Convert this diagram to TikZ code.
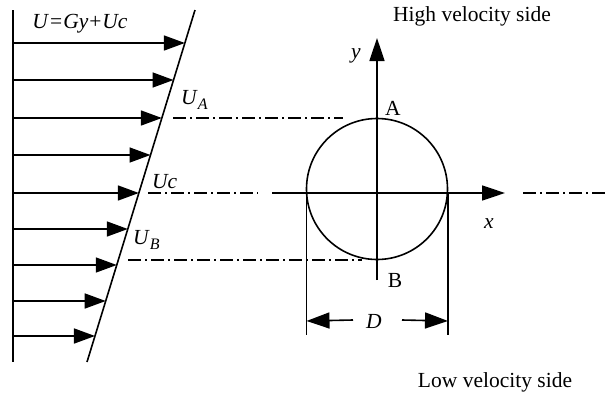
\documentclass[tikz,border=0pt]{standalone}
\usepackage{fontspec}
\setmainfont{Liberation Serif}
\usetikzlibrary{arrows.meta,calc}
\tikzset{
  flow/.style={-{Triangle[length=21pt,width=15pt]}, line width=1.6pt},
  axisline/.style={-{Triangle[length=23pt,width=15pt]}, line width=1.6pt},
  dimline/.style={-{Triangle[length=23pt,width=16pt]}, line width=1.6pt},
  centerline/.style={line width=1.2pt, dash pattern=on 13pt off 4pt on 2pt off 4pt},
  lbl/.style={inner sep=0pt, font=\fontsize{21.5}{25}\selectfont},
}
\newcommand{\usub}[1]{\textit{U}\raisebox{-5pt}{\fontsize{16}{18}\selectfont\textit{#1}}}

\begin{document}
\begin{tikzpicture}[x=1pt,y=-1pt]
    \useasboundingbox (0,0) rectangle (608,394);
    % shear flow profile
    \coordinate (wtop) at (13,10);
    \coordinate (wbot) at (13,362);
    \coordinate (gtop) at (195,10);
    \coordinate (gbot) at (87,362);
    \draw[line width=2.4pt] (wtop) -- (wbot);
    \draw[line width=1.6pt] (gtop) -- (gbot);
    \foreach \yy [count=\k] in {43,80,118,155,193,229,265,301,336}{
      \pgfmathsetmacro\gx{195-0.30682*(\yy-10)}
      \coordinate (w\k) at (13,\yy);
      \coordinate (g\k) at (\gx,\yy);
      \draw[flow] (w\k) -- (g\k);
    }
    \node[lbl,anchor=base] (law) at (80,28) {\textit{U}\kern1pt=\kern1pt\textit{Gy}\kern1pt+\kern1pt\textit{Uc}};
    \node[lbl,anchor=base west] (ua) at (181,104) {\usub{A}};
    \node[lbl,anchor=base west] (uc) at (152,188) {\textit{Uc}};
    \node[lbl,anchor=base west] (ub) at (133,244) {\usub{B}};
    % cylinder and axes
    \node[draw,circle,line width=1.6pt,minimum size=141pt,inner sep=0pt] (cyl) at (377,189) {};
    \coordinate (xl) at (272,193);
    \coordinate (xr) at (505,193);
    \coordinate (yb) at (377,280);
    \coordinate (yt) at (377,38);
    \draw[axisline] (xl) -- (xr);
    \draw[axisline] (yb) -- (yt);
    \node[lbl,anchor=base] (ylab) at (356,58) {\textit{y}};
    \node[lbl,anchor=base] (xlab) at (489,228) {\textit{x}};
    \node[lbl,anchor=base] (pa) at (393,115) {A};
    \node[lbl,anchor=base] (pb) at (395,287) {B};
    % centre lines
    \coordinate (ua0) at (173,118);  \coordinate (ua1) at (343,118);
    \coordinate (uc0) at (148,193);  \coordinate (uc1) at (258,193);
    \coordinate (ub0) at (128,260);  \coordinate (ub1) at (362,260);
    \coordinate (xc0) at (523,193);  \coordinate (xc1) at (608,193);
    \draw[centerline] (ua0) -- (ua1);
    \draw[centerline] (uc0) -- (uc1);
    \draw[centerline] (ub0) -- (ub1);
    \draw[centerline] (xc0) -- (xc1);
    % diameter
    \coordinate (el0) at (306.5,193); \coordinate (el1) at (306.5,335);
    \coordinate (er0) at (448,193);   \coordinate (er1) at (448,335);
    \draw[line width=1.6pt] (el0) -- (el1);
    \draw[line width=1.6pt] (er0) -- (er1);
    \node[lbl] (dlab) at (374,321) {\textit{D}};
    \draw[dimline] (353,320) -- (el1 |- dlab);
    \draw[dimline] (402,320) -- (er1 |- dlab);
    % sides
    \node[lbl,anchor=base] (high) at (472,21) {High velocity side};
    \node[lbl,anchor=base] (low) at (495,387) {Low velocity side};
  \end{tikzpicture}
\end{document}
